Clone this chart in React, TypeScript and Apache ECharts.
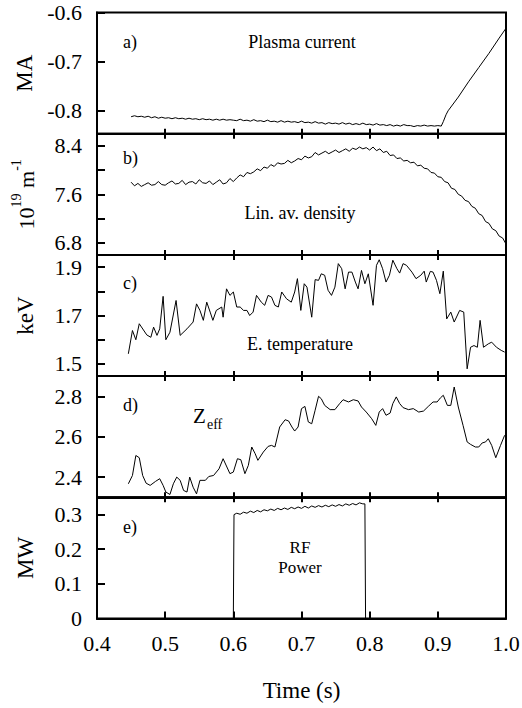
import React, { useEffect, useRef } from "react";
import * as echarts from "echarts";

const FONT = "Liberation Serif";

const timeTicks = [0.4, 0.5, 0.6, 0.7, 0.8, 0.9, 1.0];

const currentTicks = [-0.8, -0.7, -0.6];
const densityTicks = [6.8, 7.2, 7.6, 8.0, 8.4];
const densityLabels = [6.8, 7.6, 8.4];
const tempTicks = [1.5, 1.6, 1.7, 1.8, 1.9];
const tempLabels = [1.5, 1.7, 1.9];
const zeffTicks = [2.4, 2.6, 2.8];
const powerTicks = [0, 0.1, 0.2, 0.3];

const plasmaCurrent: number[][] = [
  [0.45, -0.812], [0.455, -0.81], [0.46, -0.812], [0.465, -0.811], [0.47, -0.813], [0.475, -0.811],
  [0.48, -0.814], [0.485, -0.812], [0.49, -0.815], [0.495, -0.813], [0.5, -0.815], [0.505, -0.814],
  [0.51, -0.816], [0.515, -0.814], [0.52, -0.816], [0.525, -0.815], [0.53, -0.817], [0.535, -0.815],
  [0.54, -0.817], [0.545, -0.816], [0.55, -0.818], [0.555, -0.816], [0.56, -0.818], [0.565, -0.817],
  [0.57, -0.819], [0.575, -0.817], [0.58, -0.819], [0.585, -0.817], [0.59, -0.819], [0.595, -0.818],
  [0.6, -0.819], [0.605, -0.82], [0.61, -0.817], [0.615, -0.82], [0.62, -0.819], [0.625, -0.821],
  [0.63, -0.818], [0.635, -0.821], [0.64, -0.82], [0.645, -0.822], [0.65, -0.819], [0.655, -0.822],
  [0.66, -0.821], [0.665, -0.823], [0.67, -0.82], [0.675, -0.823], [0.68, -0.821], [0.685, -0.823],
  [0.69, -0.822], [0.695, -0.824], [0.7, -0.821], [0.705, -0.824], [0.71, -0.823], [0.715, -0.825],
  [0.72, -0.822], [0.725, -0.825], [0.73, -0.824], [0.735, -0.827], [0.74, -0.824], [0.745, -0.826],
  [0.75, -0.825], [0.755, -0.827], [0.76, -0.824], [0.765, -0.827], [0.77, -0.825], [0.775, -0.828],
  [0.78, -0.826], [0.785, -0.828], [0.79, -0.825], [0.795, -0.828], [0.8, -0.827], [0.805, -0.829],
  [0.81, -0.826], [0.815, -0.829], [0.82, -0.828], [0.825, -0.83], [0.83, -0.828], [0.835, -0.831],
  [0.84, -0.829], [0.845, -0.831], [0.85, -0.828], [0.855, -0.83], [0.86, -0.83], [0.865, -0.832],
  [0.87, -0.83], [0.875, -0.831], [0.88, -0.829], [0.885, -0.831], [0.89, -0.83], [0.895, -0.831],
  [0.9, -0.83], [0.905, -0.831], [0.908, -0.822], [0.912, -0.808], [0.915, -0.8], [0.93, -0.772],
  [0.945, -0.741], [0.96, -0.712], [0.975, -0.683], [0.99, -0.652], [1.0, -0.632],
];

const density: number[][] = [
  [0.45, 7.8], [0.455, 7.74], [0.46, 7.78], [0.465, 7.73], [0.47, 7.76], [0.475, 7.79], [0.48, 7.75],
  [0.485, 7.76], [0.49, 7.81], [0.495, 7.76], [0.5, 7.75], [0.505, 7.79], [0.51, 7.82], [0.515, 7.77],
  [0.52, 7.78], [0.525, 7.83], [0.53, 7.76], [0.535, 7.8], [0.54, 7.81], [0.545, 7.77], [0.55, 7.84],
  [0.555, 7.79], [0.56, 7.78], [0.565, 7.82], [0.57, 7.76], [0.575, 7.8], [0.58, 7.84], [0.585, 7.77],
  [0.59, 7.79], [0.595, 7.86], [0.6, 7.81], [0.605, 7.87], [0.61, 7.92], [0.615, 7.89], [0.62, 7.96],
  [0.625, 7.94], [0.63, 7.97], [0.635, 8.02], [0.64, 7.99], [0.645, 8.05], [0.65, 8.03], [0.655, 8.09],
  [0.66, 8.06], [0.665, 8.12], [0.67, 8.1], [0.675, 8.11], [0.68, 8.16], [0.685, 8.12], [0.69, 8.15],
  [0.695, 8.19], [0.7, 8.17], [0.705, 8.23], [0.71, 8.2], [0.715, 8.22], [0.72, 8.29], [0.725, 8.25],
  [0.73, 8.28], [0.735, 8.31], [0.74, 8.27], [0.745, 8.3], [0.75, 8.33], [0.755, 8.29], [0.76, 8.32],
  [0.765, 8.35], [0.77, 8.31], [0.775, 8.36], [0.78, 8.34], [0.785, 8.38], [0.79, 8.35], [0.795, 8.37],
  [0.8, 8.33], [0.805, 8.38], [0.81, 8.32], [0.815, 8.35], [0.82, 8.29], [0.825, 8.31], [0.83, 8.24],
  [0.835, 8.25], [0.84, 8.19], [0.845, 8.2], [0.85, 8.15], [0.855, 8.16], [0.86, 8.12], [0.865, 8.13],
  [0.87, 8.07], [0.875, 8.08], [0.88, 8.03], [0.885, 8.02], [0.89, 7.96], [0.895, 7.95], [0.9, 7.89],
  [0.905, 7.88], [0.91, 7.81], [0.915, 7.79], [0.92, 7.7], [0.925, 7.68], [0.93, 7.6], [0.935, 7.57],
  [0.94, 7.5], [0.945, 7.48], [0.95, 7.4], [0.955, 7.37], [0.96, 7.28], [0.965, 7.25], [0.97, 7.15],
  [0.975, 7.12], [0.98, 7.03], [0.985, 7.0], [0.99, 6.91], [0.995, 6.88], [1.0, 6.78],
];

const temperature: number[][] = [
  [0.446, 1.542], [0.452, 1.638], [0.457, 1.6], [0.462, 1.666], [0.473, 1.62], [0.479, 1.61],
  [0.483, 1.652], [0.488, 1.618], [0.492, 1.645], [0.497, 1.779], [0.501, 1.6], [0.507, 1.631],
  [0.516, 1.762], [0.522, 1.618], [0.532, 1.645], [0.541, 1.673], [0.546, 1.748], [0.551, 1.721],
  [0.556, 1.68], [0.561, 1.755], [0.566, 1.714], [0.57, 1.68], [0.575, 1.721], [0.583, 1.735],
  [0.585, 1.693], [0.59, 1.81], [0.595, 1.783], [0.6, 1.797], [0.605, 1.735], [0.61, 1.735],
  [0.615, 1.721], [0.62, 1.721], [0.624, 1.7], [0.629, 1.714], [0.634, 1.783], [0.641, 1.755],
  [0.646, 1.742], [0.651, 1.783], [0.656, 1.776], [0.661, 1.742], [0.666, 1.735], [0.671, 1.797],
  [0.678, 1.769], [0.685, 1.755], [0.69, 1.797], [0.694, 1.852], [0.699, 1.721], [0.704, 1.831],
  [0.708, 1.817], [0.715, 1.693], [0.72, 1.848], [0.725, 1.845], [0.729, 1.872], [0.734, 1.866],
  [0.739, 1.804], [0.744, 1.783], [0.749, 1.817], [0.754, 1.914], [0.759, 1.893], [0.764, 1.81],
  [0.769, 1.879], [0.774, 1.879], [0.779, 1.838], [0.783, 1.81], [0.788, 1.886], [0.793, 1.831],
  [0.798, 1.872], [0.805, 1.742], [0.81, 1.907], [0.814, 1.93], [0.819, 1.893], [0.824, 1.838],
  [0.829, 1.866], [0.834, 1.928], [0.84, 1.893], [0.844, 1.875], [0.849, 1.914], [0.854, 1.907],
  [0.862, 1.879], [0.868, 1.852], [0.875, 1.866], [0.88, 1.883], [0.883, 1.838], [0.889, 1.882],
  [0.893, 1.879], [0.898, 1.845], [0.903, 1.79], [0.908, 1.883], [0.913, 1.686], [0.919, 1.714],
  [0.924, 1.673], [0.932, 1.721], [0.938, 1.714], [0.943, 1.48], [0.948, 1.569], [0.953, 1.576],
  [0.958, 1.569], [0.962, 1.68], [0.967, 1.569], [0.974, 1.583], [0.979, 1.59], [0.986, 1.569],
  [0.993, 1.556], [0.998, 1.549],
];

const zeff: number[][] = [
  [0.446, 2.367], [0.452, 2.408], [0.457, 2.507], [0.462, 2.496], [0.467, 2.408], [0.472, 2.37],
  [0.478, 2.359], [0.486, 2.379], [0.492, 2.392], [0.497, 2.359], [0.501, 2.326], [0.507, 2.314],
  [0.512, 2.367], [0.517, 2.4], [0.522, 2.384], [0.527, 2.334], [0.532, 2.326], [0.536, 2.4],
  [0.541, 2.35], [0.546, 2.317], [0.551, 2.384], [0.559, 2.384], [0.564, 2.403], [0.571, 2.408],
  [0.579, 2.441], [0.585, 2.491], [0.595, 2.417], [0.6, 2.425], [0.606, 2.491], [0.611, 2.486],
  [0.617, 2.417], [0.622, 2.458], [0.627, 2.549], [0.632, 2.516], [0.636, 2.483], [0.644, 2.524],
  [0.651, 2.552], [0.656, 2.557], [0.661, 2.549], [0.668, 2.648], [0.676, 2.684], [0.681, 2.678],
  [0.686, 2.648], [0.69, 2.628], [0.695, 2.648], [0.7, 2.739], [0.705, 2.75], [0.71, 2.673],
  [0.715, 2.664], [0.72, 2.731], [0.725, 2.8], [0.729, 2.788], [0.734, 2.755], [0.742, 2.734],
  [0.749, 2.734], [0.756, 2.764], [0.761, 2.783], [0.769, 2.772], [0.776, 2.783], [0.783, 2.777],
  [0.788, 2.747], [0.795, 2.722], [0.803, 2.689], [0.809, 2.656], [0.814, 2.722], [0.819, 2.739],
  [0.824, 2.706], [0.83, 2.717], [0.834, 2.764], [0.839, 2.797], [0.844, 2.764], [0.849, 2.744],
  [0.857, 2.734], [0.864, 2.739], [0.872, 2.722], [0.879, 2.727], [0.886, 2.75], [0.893, 2.772],
  [0.899, 2.772], [0.904, 2.793], [0.908, 2.805], [0.914, 2.755], [0.919, 2.755], [0.924, 2.846],
  [0.93, 2.747], [0.937, 2.656], [0.943, 2.574], [0.948, 2.562], [0.955, 2.549], [0.96, 2.549],
  [0.965, 2.569], [0.97, 2.574], [0.974, 2.59], [0.979, 2.557], [0.985, 2.496], [0.992, 2.557],
  [0.998, 2.607],
];

const rfPower: number[][] = [
  [0.45, 0], [0.6, 0], [0.601, 0.3], [0.605, 0.304], [0.61, 0.301], [0.615, 0.307], [0.62, 0.304],
  [0.625, 0.31], [0.63, 0.306], [0.635, 0.312], [0.64, 0.308], [0.645, 0.314], [0.65, 0.311],
  [0.655, 0.316], [0.66, 0.312], [0.665, 0.318], [0.67, 0.314], [0.675, 0.319], [0.68, 0.315],
  [0.685, 0.321], [0.69, 0.317], [0.695, 0.322], [0.7, 0.318], [0.705, 0.324], [0.71, 0.319],
  [0.715, 0.325], [0.72, 0.321], [0.725, 0.326], [0.73, 0.322], [0.735, 0.327], [0.74, 0.323],
  [0.745, 0.328], [0.75, 0.324], [0.755, 0.329], [0.76, 0.325], [0.765, 0.331], [0.77, 0.327],
  [0.775, 0.332], [0.78, 0.328], [0.785, 0.334], [0.79, 0.331], [0.793, 0.331], [0.794, 0], [1.0, 0],
];

const panelTitles = ["a)", "b)", "c)", "d)", "e)"];

export default function App() {
  const ref = useRef<HTMLDivElement>(null);
  useEffect(() => {
    if (!ref.current) return;
    const chart = echarts.init(ref.current, null, { renderer: "svg" });
    const left = 97;
    const width = 409;
    const top0 = 12.5;
    const h = 121.2;
    const grids = [0, 1, 2, 3, 4].map((i) => ({
      left,
      width,
      top: top0 + i * h,
      height: h,
      show: true,
      borderColor: "#000",
      borderWidth: 2,
      backgroundColor: "transparent",
      containLabel: false,
      outerBoundsMode: "none",
    }));
    const txt = { fontFamily: FONT, color: "#000" };
    const bottomX = [0, 1, 2, 3, 4].map((i) => ({
      type: "value",
      gridIndex: i,
      min: 0.4,
      max: 1.0,
      position: "bottom",
      axisLine: { show: true, lineStyle: { color: "#000", width: 2 } },
      axisTick: { show: true, inside: true, length: i === 4 ? 7 : 5, lineStyle: { color: "#000", width: 2 }, customValues: timeTicks },
      axisLabel: {
        show: i === 4,
        customValues: timeTicks,
        formatter: (v: number) => v.toFixed(1),
        fontSize: 22,
        margin: 14,
        ...txt,
      },
      splitLine: { show: false },
      name: i === 4 ? "Time (s)" : "",
      nameLocation: "middle",
      nameGap: 60,
      nameTextStyle: { fontSize: 23, ...txt },
    }));
    const topX = [1, 2, 3, 4].map((i) => ({
      type: "value",
      gridIndex: i,
      min: 0.4,
      max: 1.0,
      position: "top",
      axisLine: { show: false },
      axisTick: { show: true, inside: true, length: 5, lineStyle: { color: "#000", width: 2 }, customValues: timeTicks },
      axisLabel: { show: false },
      splitLine: { show: false },
    }));
    const yBase = (i: number, min: number, max: number, ticks: number[], labels: number[], name: string, fmt: (v: number) => string, extra: any = {}) => ({
      type: "value",
      gridIndex: i,
      min,
      max,
      axisLine: { show: true, lineStyle: { color: "#000", width: 2 } },
      axisTick: { show: true, inside: true, length: 8, lineStyle: { color: "#000", width: 2 }, customValues: ticks },
      axisLabel: { customValues: labels, formatter: fmt, fontSize: 22, margin: 15, ...txt },
      splitLine: { show: false },
      name,
      nameLocation: "middle",
      nameRotate: 90,
      nameGap: 60,
      nameTextStyle: { fontSize: 23, ...txt, ...extra },
    });
    const f1 = (v: number) => v.toFixed(1);
    const yAxes = [
      yBase(0, -0.8465, -0.6, currentTicks, currentTicks, "MA", f1),
      yBase(1, 6.6, 8.6, densityTicks, densityLabels, "{n|10}{s|19}{n| m}{s|-1}", f1, {
        rich: {
          n: { fontSize: 22, fontFamily: FONT, color: "#000", verticalAlign: "bottom", lineHeight: 28 },
          s: { fontSize: 14, fontFamily: FONT, color: "#000", verticalAlign: "top", lineHeight: 28 },
        },
      }),
      yBase(2, 1.45, 1.95, tempTicks, tempLabels, "keV", f1),
      yBase(3, 2.3, 2.9, zeffTicks, zeffTicks, "", f1),
      yBase(4, 0, 0.35, powerTicks, powerTicks, "MW", (v: number) => (v === 0 ? "0" : v.toFixed(1))),
    ];
    const seriesData = [plasmaCurrent, density, temperature, zeff, rfPower];
    const series = seriesData.map((d, i) => ({
      type: "line",
      xAxisIndex: i,
      yAxisIndex: i,
      data: d,
      showSymbol: false,
      symbol: "none",
      lineStyle: { color: "#000", width: 1 },
      silent: true,
    }));
    const ann = (text: string, x: number, y: number, align = "center", size = 18) => ({
      type: "text",
      x,
      y,
      style: { text, fontSize: size, fontFamily: FONT, fill: "#000", align, verticalAlign: "middle" },
    });
    const titleY = [42, 158, 283, 405, 527];
    const graphic = [
      ...panelTitles.map((t, i) => ann(t, 123, titleY[i], "left")),
      ann("Plasma current", 302, 42),
      ann("Lin. av. density", 300, 213),
      ann("E. temperature", 300, 344),
      ann("Z", 193, 416, "left", 21),
      ann("eff", 207, 424, "left", 14),
      ann("RF", 300, 547, "center", 17),
      ann("Power", 300, 567, "center", 17),
    ];
    chart.setOption({
      animation: false,
      backgroundColor: "#fff",
      grid: grids,
      xAxis: [...bottomX, ...topX],
      yAxis: yAxes,
      series,
      graphic,
    });
    return () => chart.dispose();
  }, []);
  return <div ref={ref} style={{ position: "absolute", left: 0, top: 0, width: 522, height: 708 }} />;
}
